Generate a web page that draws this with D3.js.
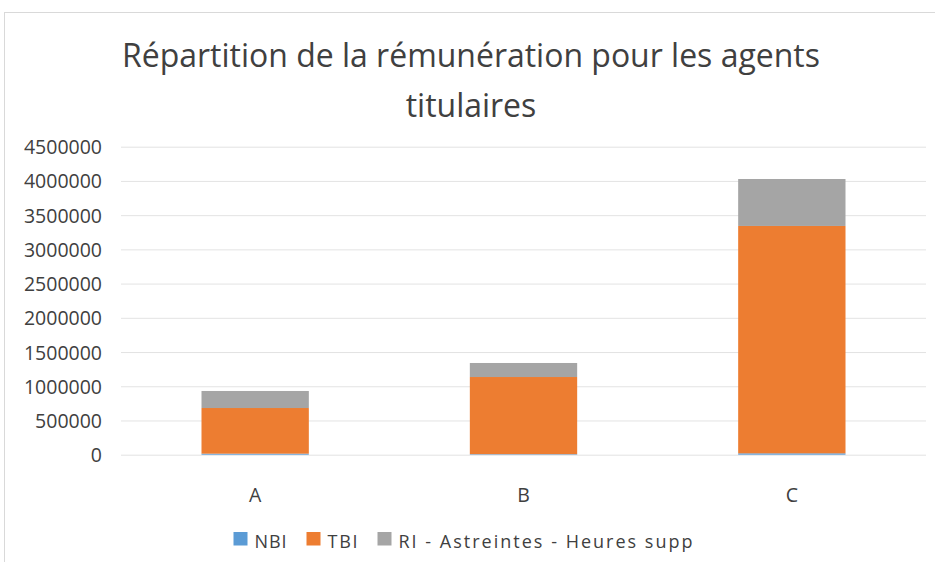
<!DOCTYPE html>
<html>
<head>
<meta charset="utf-8">
<script src="https://cdn.jsdelivr.net/npm/d3@7/dist/d3.min.js"></script>
<style>
  html, body { margin: 0; padding: 0; background: #fff; }
  svg { display: block; }
  text { font-family: "Open Sans", "Noto Sans", sans-serif; fill: #404040; }
</style>
</head>
<body>
<svg id="chart" width="935" height="562"></svg>
<script>
const titleLines = ["Répartition de la rémunération pour les agents", "titulaires"];
const categories = ["A", "B", "C"];
const seriesNames = ["NBI", "TBI", "RI - Astreintes - Heures supp"];
const seriesColors = ["#5B9BD5", "#ED7D31", "#A5A5A5"];
const nbi = [15000, 8000, 20000];
const tbi = [667000, 1127000, 3322000];
const ri = [249000, 205000, 686000];
const yTicks = [0, 500000, 1000000, 1500000, 2000000, 2500000, 3000000, 3500000, 4000000, 4500000];

const svg = d3.select("#chart");
const W = 935, H = 562;

// chart frame
svg.append("rect")
  .attr("x", 4.5).attr("y", 12.5)
  .attr("width", 940).attr("height", 600)
  .attr("fill", "#fff").attr("stroke", "#d9d9d9").attr("stroke-width", 1);

// title
const titleCenter = 471;
const t1 = svg.append("text").attr("text-anchor", "middle").attr("x", titleCenter).attr("y", 67)
  .style("font-size", "34px").text(titleLines[0]);
const w1 = t1.node().getComputedTextLength();
const titleSize = 34 * 698 / w1;
t1.style("font-size", titleSize + "px");
svg.append("text").attr("text-anchor", "middle").attr("x", titleCenter).attr("y", 117)
  .style("font-size", titleSize + "px").text(titleLines[1]);

// scales
const x = d3.scaleBand().domain(categories).range([121, 926]).paddingInner(0.6).paddingOuter(0.3);
const y = d3.scaleLinear().domain([0, 4500000]).range([454.7, 146.7]);

// gridlines
const grid = svg.append("g").attr("transform", "translate(121,0)")
  .call(d3.axisLeft(y).tickValues(yTicks).tickSize(-805).tickFormat(""));
grid.select(".domain").remove();
grid.selectAll(".tick line").attr("stroke", "#e3e3e3").attr("stroke-width", 1);

// y axis labels
const yAxis = svg.append("g").attr("transform", "translate(121,0)")
  .call(d3.axisLeft(y).tickValues(yTicks).tickSize(0).tickPadding(19).tickFormat(d => String(d)));
yAxis.select(".domain").remove();
yAxis.selectAll("text").attr("font-family", null).attr("fill", "#404040").style("font-size", "19.5px").attr("dy", "0.36em");

// stacked data
const rows = categories.map((c, i) => ({ cat: c, NBI: nbi[i], TBI: tbi[i], RI: ri[i] }));
const stack = d3.stack().keys(["NBI", "TBI", "RI"]);
const layers = stack(rows);

svg.append("g").selectAll("g").data(layers).join("g")
  .attr("fill", (d, i) => seriesColors[i])
  .selectAll("rect").data(d => d).join("rect")
  .attr("x", d => x(d.data.cat))
  .attr("width", x.bandwidth())
  .attr("y", d => y(d[1]))
  .attr("height", d => y(d[0]) - y(d[1]));

// x axis labels
const xAxis = svg.append("g").attr("transform", "translate(0,454.7)")
  .call(d3.axisBottom(x).tickSize(0).tickPadding(33));
xAxis.select(".domain").remove();
xAxis.selectAll("text").attr("font-family", null).attr("fill", "#404040").style("font-size", "19.5px");

// legend
const legendTextLens = [32, 30, 294];
const sq = 14, gapSq = 7, gapItem = 20;
let total = 0;
legendTextLens.forEach((l, i) => { total += sq + gapSq + l + (i < legendTextLens.length - 1 ? gapItem : 0); });
let lx = 463 - total / 2;
const legend = svg.append("g");
seriesNames.forEach((name, i) => {
  legend.append("rect").attr("x", lx).attr("y", 532).attr("width", sq).attr("height", 13.5).attr("fill", seriesColors[i]);
  legend.append("text").attr("x", lx + sq + gapSq).attr("y", 547.5)
    .style("font-size", "18px")
    .attr("textLength", legendTextLens[i]).attr("lengthAdjust", "spacing")
    .text(name);
  lx += sq + gapSq + legendTextLens[i] + gapItem;
});
</script>
</body>
</html>
